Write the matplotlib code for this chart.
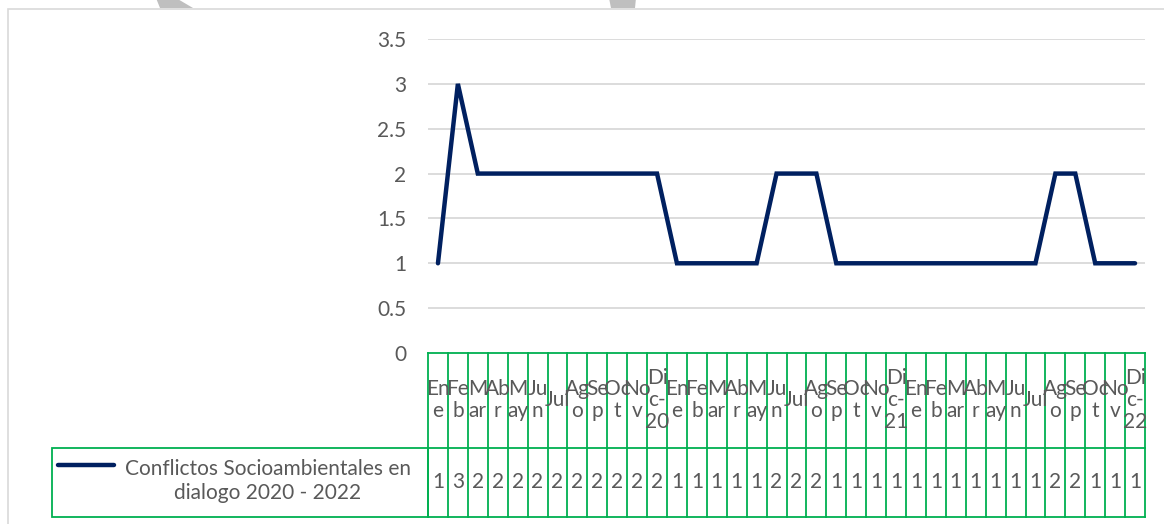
import numpy as np
import matplotlib.pyplot as plt
from matplotlib.lines import Line2D
from matplotlib.patches import Rectangle, Polygon

plt.rcParams['font.family'] = ['Lato', 'DejaVu Sans']

months = ['En\ne', 'Fe\nb', 'M\nar', 'Ab\nr', 'M\nay', 'Ju\nn', 'Jul',
          'Ag\no', 'Se\np', 'Oc\nt', 'No\nv']
years = ['20', '21', '22']
labels = []
for yy in years:
    labels += months + ['Di\nc-\n' + yy]

values = [1, 3, 2, 2, 2, 2, 2, 2, 2, 2, 2, 2,
          1, 1, 1, 1, 1, 2, 2, 2, 1, 1, 1, 1,
          1, 1, 1, 1, 1, 1, 1, 2, 2, 1, 1, 1]
series_name = 'Conflictos Socioambientales en\ndialogo 2020 - 2022'
yticks = [0, 0.5, 1, 1.5, 2, 2.5, 3, 3.5]

W, H = 1164, 524
TXT = '#595959'
GREEN = '#00B050'
NAVY = '#002060'
FS = 15

fig = plt.figure(figsize=(W / 100, H / 100), dpi=100)
fig.patch.set_facecolor('white')


def fx(px):
    return px / W


def fy(py):
    return 1 - py / H


def pts(coords):
    return [(fx(a), fy(b)) for a, b in coords]


# bits of a page watermark above the chart
for shape in ([(156, -2), (176, -2), (193, 8), (160, 8)],
              [(609, -2), (636, -2), (635, 8), (611, 8)]):
    fig.add_artist(Polygon(pts(shape), closed=True, transform=fig.transFigure,
                           facecolor='#BFBFBF', edgecolor='none'))

# outer chart border
fig.add_artist(Rectangle((fx(8), fy(600)), fx(1200), fy(9) - fy(600),
                         transform=fig.transFigure, fill=False,
                         edgecolor='#D9D9D9', lw=1.2))

left, right = 428, 1145
top, zero = 39, 353
ax = fig.add_axes([fx(left), fy(zero), fx(right) - fx(left), fy(top) - fy(zero)])
n = len(values)
x = np.arange(n)
ax.plot(x, values, color=NAVY, lw=3.2, solid_capstyle='round', solid_joinstyle='miter', zorder=3)
ax.set_xlim(-0.5, n - 0.5)
ax.set_ylim(0, 3.5)
ax.set_yticks(yticks)
ax.set_yticklabels([f'{v:g}' for v in yticks], fontsize=FS, color=TXT)
ax.tick_params(axis='y', length=0, pad=15.5)
ax.set_xticks([])
for v in yticks[1:]:
    ax.axhline(v, color='#D9D9D9', lw=1.3, zorder=1)
for s in ax.spines.values():
    s.set_visible(False)

# data table
hdr_bot, tbl_bot = 448, 517
tab = fig.add_axes([fx(left), fy(tbl_bot), fx(right) - fx(left), fy(zero) - fy(tbl_bot)])
tab.set_xlim(-0.5, n - 0.5)
tab.set_ylim(tbl_bot, zero)
tab.axis('off')
for i in range(n + 1):
    tab.plot([i - 0.5, i - 0.5], [zero, tbl_bot], color=GREEN, lw=1.3, clip_on=False)
for yy in (zero, hdr_bot, tbl_bot):
    tab.plot([-0.5, n - 0.5], [yy, yy], color=GREEN, lw=1.3, clip_on=False)
for i, (lab, v) in enumerate(zip(labels, values)):
    tab.text(i, 400, lab, ha='center', va='center', fontsize=FS, color=TXT,
             linespacing=1.15)
    tab.text(i, 482, str(v), ha='center', va='center', fontsize=FS, color=TXT)

# legend cell
fig.add_artist(Rectangle((fx(52), fy(tbl_bot)), fx(left) - fx(52), fy(hdr_bot) - fy(tbl_bot),
                         transform=fig.transFigure, fill=False, edgecolor=GREEN, lw=1.3))
fig.add_artist(Line2D([fx(58), fx(114)], [fy(465), fy(465)], transform=fig.transFigure,
                      color=NAVY, lw=3.2, solid_capstyle='round'))
fig.text(fx(268), fy(481), series_name, ha='center', va='center', fontsize=FS,
         color=TXT, linespacing=1.3)

fig.savefig('out.png', dpi=100, facecolor='white')
